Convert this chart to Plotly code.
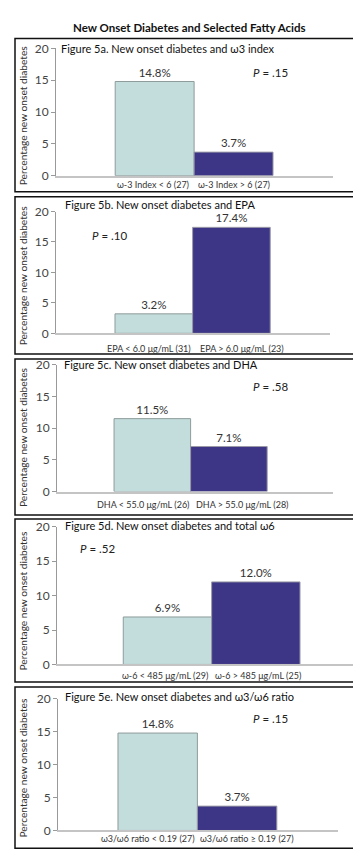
import plotly.graph_objects as go

W, H = 361, 856

# ---- data ----
panel_titles = [
    "Figure 5a. New onset diabetes and ω3 index",
    "Figure 5b. New onset diabetes and EPA",
    "Figure 5c. New onset diabetes and DHA",
    "Figure 5d. New onset diabetes and total ω6",
    "Figure 5e. New onset diabetes and ω3/ω6 ratio",
]
low_labels = [
    "ω-3 Index < 6 (27)",
    "EPA < 6.0 μg/mL (31)",
    "DHA < 55.0 μg/mL (26)",
    "ω-6 < 485 μg/mL (29)",
    "ω3/ω6 ratio < 0.19 (27)",
]
high_labels = [
    "ω-3 Index > 6 (27)",
    "EPA > 6.0 μg/mL (23)",
    "DHA > 55.0 μg/mL (28)",
    "ω-6 > 485 μg/mL (25)",
    "ω3/ω6 ratio ≥ 0.19 (27)",
]
low_values = [14.8, 3.2, 11.5, 6.9, 14.8]
high_values = [3.7, 17.4, 7.1, 12.0, 3.7]
p_values = [".15", ".10", ".58", ".52", ".15"]
y_ticks = [0, 5, 10, 15, 20]

# ---- layout (pixel positions) ----
boxes = [(23, 179), (184, 344), (349, 508), (512, 678), (683, 847)]
y_px = [(162.5, 33), (323, 199), (484, 355), (660, 520), (829, 695)]   # (zero, twenty)
x_px = [(48, 325), (48, 322), (49, 325), (49, 353), (50, 330)]
x_rng = [(-1.75, 1.76), (-1.76, 1.77), (-1.745, 1.86), (-1.75, 1.69), (-1.755, 1.77)]
head_pos = [(51, 33), (55, 192), (54, 355), (55, 519), (55, 693)]
p_pos = [(243, 58), (82, 223), (243, 377), (70, 542), (243, 715)]
# category label centres (x of low, x of high, y)
lab_pos = [(144.5, 226, 172), (141, 234, 338), (135.5, 234.5, 497),
           (157, 250, 671), (140, 239, 837)]

LIGHT = "#c3dcdc"
DARK = "#3d3585"
FONT = "Lato, 'Open Sans', sans-serif"

def px(x):
    return x / W

def py(y):
    return 1 - y / H

fig = go.Figure()
annotations = []
shapes = []

for i in range(5):
    n = "" if i == 0 else str(i + 1)
    xa, ya = "x" + n, "y" + n
    fig.add_trace(go.Bar(
        x=[-0.5], y=[low_values[i]], width=[1], xaxis=xa, yaxis=ya,
        marker=dict(color=LIGHT, line=dict(color="#8e9c9c", width=1)),
        text=[f"{low_values[i]:.1f}%"], textposition="outside",
        textfont=dict(size=11.5, color="#333", family=FONT), cliponaxis=False,
        hoverinfo="skip",
    ))
    fig.add_trace(go.Bar(
        x=[0.5], y=[high_values[i]], width=[1], xaxis=xa, yaxis=ya,
        marker=dict(color=DARK, line=dict(color="#9a9aa8", width=1)),
        text=[f"{high_values[i]:.1f}%"], textposition="outside",
        textfont=dict(size=11.5, color="#333", family=FONT), cliponaxis=False,
        hoverinfo="skip",
    ))
    xkey = "xaxis" + n
    ykey = "yaxis" + n
    fig.layout[xkey] = dict(
        domain=[px(x_px[i][0]), px(x_px[i][1])], range=list(x_rng[i]),
        anchor=ya, showticklabels=False,
        ticks="", showline=True, linecolor="#c4c4c4", linewidth=1.5,
        showgrid=False, zeroline=False,
    )
    fig.layout[ykey] = dict(
        domain=[py(y_px[i][0]), py(y_px[i][1])], range=[0, 20],
        anchor=xa, tickvals=y_ticks, ticks="outside", ticklen=4,
        tickcolor="#999", showline=True, linecolor="#999", linewidth=1,
        showgrid=False, zeroline=False,
        tickfont=dict(size=12, color="#444", family=FONT),
    )
    # category labels
    for lbl, xc in ((low_labels[i], lab_pos[i][0]), (high_labels[i], lab_pos[i][1])):
        annotations.append(dict(xref="paper", yref="paper", x=px(xc), y=py(lab_pos[i][2]),
                                xanchor="center", yanchor="middle", text=lbl,
                                showarrow=False,
                                font=dict(size=9, color="#333", family=FONT)))
    # panel border
    shapes.append(dict(type="rect", xref="paper", yref="paper",
                       x0=px(7), x1=px(355), y0=py(boxes[i][1]), y1=py(boxes[i][0]),
                       line=dict(color="#111", width=1.5)))
    # heading
    annotations.append(dict(xref="paper", yref="paper", x=px(head_pos[i][0]),
                            y=py(head_pos[i][1]), xanchor="left", yanchor="middle",
                            text=panel_titles[i], showarrow=False,
                            font=dict(size=11, color="#111", family=FONT)))
    # P value
    annotations.append(dict(xref="paper", yref="paper", x=px(p_pos[i][0]),
                            y=py(p_pos[i][1]), xanchor="left", yanchor="middle",
                            text=f"<i>P</i> = {p_values[i]}", showarrow=False,
                            font=dict(size=11.5, color="#222", family=FONT)))
    # y-axis title
    annotations.append(dict(xref="paper", yref="paper", x=px(15),
                            y=py((boxes[i][0] + boxes[i][1]) / 2),
                            xanchor="center", yanchor="middle", textangle=-90,
                            text="Percentage new onset diabetes", showarrow=False,
                            font=dict(size=10.2, color="#333", family=FONT)))

annotations.append(dict(xref="paper", yref="paper", x=px(181), y=py(12),
                        xanchor="center", yanchor="middle",
                        text="<b>New Onset Diabetes and Selected Fatty Acids</b>",
                        showarrow=False, font=dict(size=11.5, color="#111", family=FONT)))

fig.update_layout(
    width=W, height=H, margin=dict(l=0, r=0, t=0, b=0),
    paper_bgcolor="white", plot_bgcolor="white", showlegend=False,
    barmode="overlay", annotations=annotations, shapes=shapes,
    font=dict(family=FONT),
)

fig.write_html("out.html")
